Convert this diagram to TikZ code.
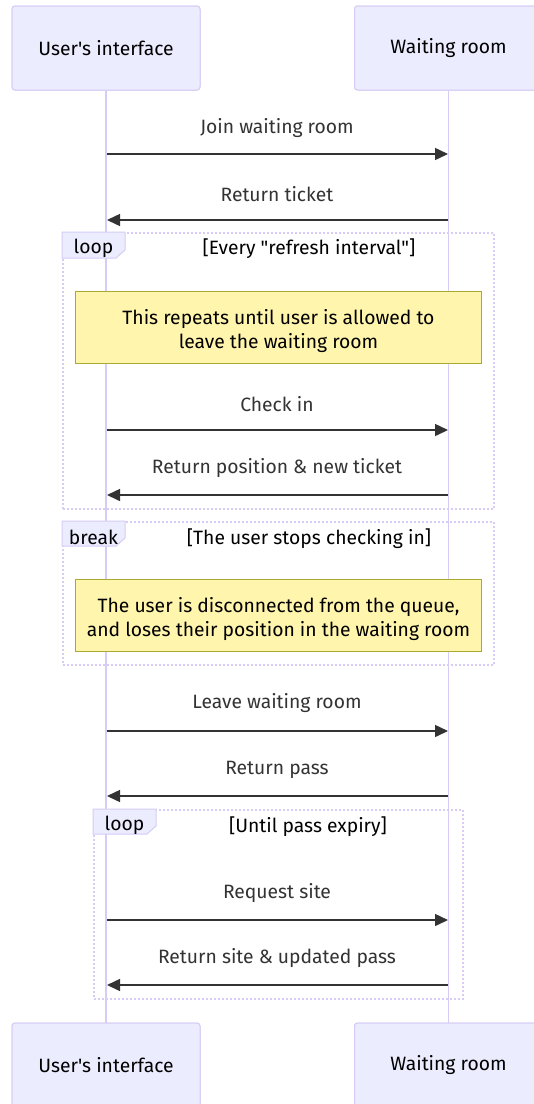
\documentclass[tikz,border=0pt]{standalone}
\usepackage{fontspec}
\setmainfont{Fira Sans}[Ligatures=TeXOff]
\usetikzlibrary{arrows.meta}
\definecolor{actfill}{HTML}{ECECFF}
\definecolor{actline}{HTML}{D6CCF5}
\definecolor{txt}{HTML}{333333}
\definecolor{notefill}{HTML}{FFF5AD}
\definecolor{noteline}{HTML}{AAAA33}
\newcommand{\mfont}{\fontsize{19.3}{24}\selectfont}
\tikzset{
  actor/.style={draw=actline, fill=actfill, rounded corners=3pt, minimum width=188pt, minimum height=84pt, line width=1pt, font=\mfont, text=black, inner sep=0pt},
  lifeline/.style={draw=actline, line width=1.8pt},
  msg/.style={draw=txt, line width=1.5pt, -{Triangle[length=13pt,width=12pt]}},
  msgtext/.style={font=\mfont, text=txt, inner sep=0pt},
  framebox/.style={draw=actline, line width=1.5pt, dash pattern=on 2pt off 2pt, inner sep=0pt, anchor=north west},
  labbox/.style={draw=actline, fill=actfill, line width=1pt},
  labtext/.style={font=\mfont, text=black, inner sep=0pt},
  note/.style={draw=noteline, fill=notefill, line width=1pt, minimum width=406pt, minimum height=72pt, align=center, font=\mfont, text=black, inner sep=0pt, anchor=north west, text depth=0pt}
}
\begin{document}
\begin{tikzpicture}[x=1pt,y=-1pt]
\useasboundingbox[fill=white] (0,0) rectangle (534,1104);
% actors
\node[actor] (ua) at (106,48) {User's interface};
\node[actor] (wa) at (448.5,48) {Waiting room};
\node[actor] (ub) at (106,1065) {User's interface};
\node[actor] (wb) at (448.5,1065) {Waiting room};
% lifelines
\draw[lifeline] (ua.south) -- (ub.north);
\draw[lifeline] (wa.south) -- (wb.north);

% messages
\coordinate (u1) at (107,154); \coordinate (w1) at (448,154);
\coordinate (u2) at (107,220); \coordinate (w2) at (448,220);
\coordinate (u3) at (107,430); \coordinate (w3) at (448,430);
\coordinate (u4) at (107,495); \coordinate (w4) at (448,495);
\coordinate (u5) at (107,731); \coordinate (w5) at (448,731);
\coordinate (u6) at (107,796); \coordinate (w6) at (448,796);
\coordinate (u7) at (107,920); \coordinate (w7) at (448,920);
\coordinate (u8) at (107,985); \coordinate (w8) at (448,985);

\draw[msg] (u1) -- (w1);
\node[msgtext] (t1) at (277,128) {Join waiting room};
\draw[msg] (w2) -- (u2);
\node[msgtext] (t2) at (277,194) {Return ticket};

% loop 1
\node[framebox, minimum width=431pt, minimum height=276pt] (loopA) at (62,232) {};
\draw[labbox] (62,232) -- (125,232) -- (125,250) -- (116,258) -- (62,258) -- cycle;
\node[labtext] (loopAl) at (93.5,248) {loop};
\node[labtext] (loopAc) at (309,249) {[Every "refresh interval"]};
\node[note] (n1) at (75,291) {\rule{0pt}{17pt}This repeats until user is allowed to\\leave the waiting room};
\draw[msg] (u3) -- (w3);
\node[msgtext] (t3) at (277,404) {Check in};
\draw[msg] (w4) -- (u4);
\node[msgtext] (t4) at (277,468) {Return position \& new ticket};

% break
\node[framebox, minimum width=431pt, minimum height=143pt] (brk) at (62,521) {};
\draw[labbox] (62,521) -- (125,521) -- (125,538) -- (116,546) -- (62,546) -- cycle;
\node[labtext] (brkl) at (93.5,537) {break};
\node[labtext] (brkc) at (309,539) {[The user stops checking in]};
\node[note] (n2) at (75,579) {\rule{0pt}{17pt}The user is disconnected from the queue,\\and loses their position in the waiting room};

\draw[msg] (u5) -- (w5);
\node[msgtext] (t5) at (277,703) {Leave waiting room};
\draw[msg] (w6) -- (u6);
\node[msgtext] (t6) at (277,770) {Return pass};

% loop 2
\node[framebox, minimum width=369pt, minimum height=189pt] (loopB) at (93,809) {};
\draw[labbox] (93,809) -- (156,809) -- (156,826) -- (147,834) -- (93,834) -- cycle;
\node[labtext] (loopBl) at (124.5,825) {loop};
\node[labtext] (loopBc) at (308,827) {[Until pass expiry]};
\draw[msg] (u7) -- (w7);
\node[msgtext] (t7) at (277,893) {Request site};
\draw[msg] (w8) -- (u8);
\node[msgtext] (t8) at (277,958) {Return site \& updated pass};

% actors on top of lifelines
\node[actor] at (106,48) {User's interface};
\node[actor] at (448.5,48) {Waiting room};
\node[actor] at (106,1065) {User's interface};
\node[actor] at (448.5,1065) {Waiting room};
\end{tikzpicture}
\end{document}
